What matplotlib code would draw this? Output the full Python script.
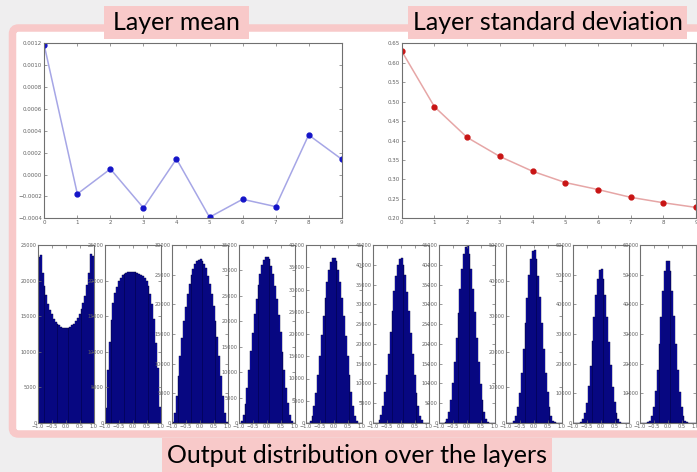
import numpy as np
import matplotlib.pyplot as plt
from matplotlib.patches import Rectangle, FancyBboxPatch

# データ
layers = [0, 1, 2, 3, 4, 5, 6, 7, 8, 9]
layer_mean = [0.00118, -0.000177, 0.000051, -0.000305, 0.000143,
              -0.000390, -0.000226, -0.000293, 0.000362, 0.000140]
layer_std = [0.630, 0.487, 0.408, 0.359, 0.321, 0.292, 0.274, 0.254, 0.240, 0.228]

# 各層の出力ヒストグラム(30ビン, 範囲 -1..1)
hist_counts = [
    [23300, 23650, 21100, 19300, 17950, 16750, 15900, 15300, 14650, 14200, 13900, 13750, 13500, 13400, 13350,
     13300, 13350, 13450, 13700, 13950, 14300, 14700, 15250, 15950, 16850, 17900, 19400, 21000, 23750, 23400],
    [2150, 7500, 11400, 14400, 16900, 18250, 19150, 19950, 20350, 20750, 20900, 21000, 21150, 21250, 21200,
     21250, 21150, 21100, 20950, 20800, 20600, 20300, 19900, 19250, 18150, 16750, 14550, 11200, 7700, 2250],
    [140, 1650, 4600, 7900, 11250, 14350, 17250, 19600, 21800, 23350, 24900, 25950, 26850, 27250, 27550,
     27600, 27300, 26750, 26050, 24800, 23450, 21700, 19700, 17150, 14450, 11350, 8000, 4500, 1750, 160],
    [20, 330, 1550, 3750, 6900, 10400, 14150, 17750, 21350, 24300, 27100, 29250, 31050, 32050, 32650,
     32700, 32150, 30950, 29350, 27000, 24400, 21250, 17850, 14050, 10500, 6800, 3850, 1480, 370, 25],
    [0, 45, 460, 1580, 3780, 6800, 10800, 15050, 19700, 24000, 28150, 31600, 34450, 36250, 37050,
     37000, 36350, 34350, 31700, 28050, 24100, 19600, 15150, 10700, 6900, 3720, 1620, 440, 55, 0],
    [0, 10, 110, 640, 1920, 4200, 7750, 12250, 17350, 22950, 28250, 33250, 37250, 40050, 41500,
     41600, 39950, 37350, 33150, 28350, 22850, 17450, 12150, 7700, 4300, 1880, 660, 95, 10, 0],
    [0, 0, 45, 310, 1070, 2780, 5750, 10050, 15350, 21600, 27900, 34000, 38950, 42600, 44600,
     44700, 42700, 39050, 33900, 28000, 21500, 15450, 9950, 5850, 2720, 1090, 290, 55, 0, 0],
    [0, 0, 20, 140, 610, 1930, 4520, 8500, 14150, 20750, 28150, 35250, 41500, 45950, 48450,
     48600, 46050, 41400, 35350, 28050, 20850, 14050, 8600, 4480, 1970, 590, 155, 25, 0, 0],
    [0, 0, 10, 95, 410, 1240, 3270, 6900, 12350, 19300, 27500, 35650, 43150, 48550, 51700,
     51900, 48650, 43050, 35750, 27400, 19400, 12250, 6980, 3230, 1260, 390, 105, 10, 0, 0],
    [0, 0, 0, 40, 205, 740, 2360, 5420, 10700, 17700, 26600, 35850, 44500, 51100, 54600,
     54700, 51200, 44400, 35950, 26500, 17800, 10600, 5480, 2340, 760, 195, 45, 0, 0, 0],
]
hist_ymax = [25000, 25000, 30000, 35000, 40000, 45000, 45000, 50000, 60000, 60000]
hist_ystep = [5000, 5000, 5000, 5000, 5000, 5000, 5000, 10000, 10000, 10000]

W, H = 697, 472
PINK = "#f8c9c9"
SPINE = "#707070"
TICKC = "#606060"


def box(x0, y0, x1, y1):
    # ピクセル座標 -> figure座標
    return [x0 / W, 1 - y1 / H, (x1 - x0) / W, (y1 - y0) / H]


def style(ax, size=4):
    for s in ax.spines.values():
        s.set_color(SPINE)
        s.set_linewidth(0.8)
    ax.tick_params(direction="in", top=True, right=True, length=2, width=0.5,
                   color=SPINE, labelsize=size, labelcolor=TICKC, pad=1.5)


fig = plt.figure(figsize=(W / 100, H / 100), dpi=100)
fig.patch.set_facecolor("#efeeef")

# 背景(枠とラベルの箱)
bg = fig.add_axes([0, 0, 1, 1])
bg.set_xlim(0, W)
bg.set_ylim(H, 0)
bg.axis("off")
bg.set_zorder(-1)
bg.add_patch(FancyBboxPatch((12.5, 28), 700, 406, boxstyle="round,pad=0,rounding_size=6",
                            facecolor="white", edgecolor=PINK, linewidth=5.4))
bg.add_patch(Rectangle((104, 6), 145, 33, facecolor=PINK, edgecolor="none"))
bg.add_patch(Rectangle((408, 6), 279, 33, facecolor=PINK, edgecolor="none"))
bg.add_patch(Rectangle((162, 438), 390, 34, facecolor=PINK, edgecolor="none"))
bg.text(176.5, 23, "Layer mean", ha="center", va="center", fontsize=18, family="Lato")
bg.text(547.5, 23, "Layer standard deviation", ha="center", va="center", fontsize=18, family="Lato")
bg.text(357, 455.5, "Output distribution over the layers", ha="center", va="center",
        fontsize=18, family="Lato")

# 平均
ax1 = fig.add_axes(box(44.3, 43.3, 341.7, 218.3))
ax1.plot(layers, layer_mean, "-", color="#a6a6e6", lw=1.1)
ax1.plot(layers, layer_mean, "o", color="#1414c8", ms=3.5, mec="#1414c8")
ax1.set_xlim(0, 9)
ax1.set_ylim(-0.0004, 0.0012)
ax1.set_xticks(layers)
ax1.set_yticks(np.arange(-0.0004, 0.00121, 0.0002))
ax1.yaxis.set_major_formatter(plt.FuncFormatter(lambda v, p: f"{v:.4f}".replace("-", "\u2212")))
style(ax1)

# 標準偏差
ax2 = fig.add_axes(box(401.7, 43.3, 696, 218.3))
ax2.plot(layers, layer_std, "-", color="#e6a6a6", lw=1.1)
ax2.plot(layers, layer_std, "o", color="#c81414", ms=3.5, mec="#c81414")
ax2.set_xlim(0, 9)
ax2.set_ylim(0.20, 0.65)
ax2.set_xticks(layers)
ax2.set_yticks(np.arange(0.20, 0.651, 0.05))
ax2.yaxis.set_major_formatter(plt.FuncFormatter(lambda v, p: f"{v:.2f}"))
style(ax2)

# ヒストグラム
edges = np.linspace(-1, 1, 31)
lefts = [38, 105, 172, 239, 306, 373, 439, 506, 573, 640]
for i, counts in enumerate(hist_counts):
    x0 = lefts[i]
    ax = fig.add_axes(box(x0, 245, x0 + 55.5, 423))
    ax.stairs(counts, edges, fill=True, color="#0c0cb0")
    ax.bar(edges[:-1], counts, width=edges[1] - edges[0], align="edge",
           facecolor="none", edgecolor="#000033", linewidth=0.3)
    ax.set_xlim(-1, 1)
    ax.set_ylim(0, hist_ymax[i])
    ax.set_xticks([-1.0, -0.5, 0.0, 0.5, 1.0])
    ax.set_yticks(np.arange(0, hist_ymax[i] + 1, hist_ystep[i]))
    style(ax, size=3.6)
    ax.tick_params(pad=1)

fig.savefig("out.png", dpi=100, facecolor=fig.get_facecolor())
